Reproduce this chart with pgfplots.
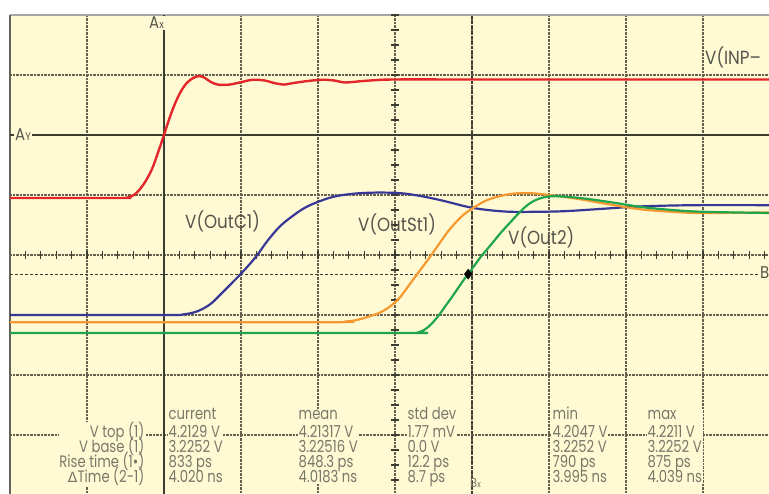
\documentclass[border=0pt]{standalone}
\usepackage{pgfplots}
\pgfplotsset{compat=1.18}
\usepackage{fontspec}
\setmainfont{Poppins}
\newfontfamily\dv{DejaVu Sans}
\newfontfamily\cond[FakeStretch=0.8]{Poppins}
\newfontfamily\lbl[FakeStretch=0.88]{Poppins}
\definecolor{bg}{RGB}{255,250,212}
\definecolor{gridc}{RGB}{100,98,78}
\definecolor{axc}{RGB}{60,60,48}
\definecolor{txt}{RGB}{120,120,105}
\definecolor{lab}{RGB}{85,85,75}
\definecolor{cred}{RGB}{226,38,42}
\definecolor{cblue}{RGB}{55,55,150}
\definecolor{corange}{RGB}{245,152,48}
\definecolor{cgreen}{RGB}{32,165,78}
\newcommand\colL[1]{\vtop{\baselineskip=15pt\lineskiplimit=-30pt\halign{##\hfil\cr #1}}}
\newcommand\colR[1]{\vtop{\baselineskip=15pt\lineskiplimit=-30pt\halign{\hfil##\cr #1}}}
\begin{document}
\begin{tikzpicture}[x=1pt,y=1pt]
\useasboundingbox (0,0) rectangle (769,494);
\clip (0,0) rectangle (769,494);
\fill[white] (0,0) rectangle (769,494);
\begin{axis}[
  at={(10pt,0pt)}, anchor=south west,
  scale only axis, width=759pt, height=479pt,
  xmin=0, xmax=9.857, ymin=0.0167, ymax=8,
  axis line style={draw=none},
  axis background/.style={fill=bg},
  xtick={0,...,9}, ytick={0,...,8},
  xticklabels={}, yticklabels={},
  tick style={draw=none},
  grid=major,
  major grid style={gridc, densely dotted, line width=1.1pt},
  clip=false,
]
% frame
\draw[gray!70, line width=1.6pt] (axis cs:0,8) -- (axis cs:9.857,8);
\draw[axc!80, line width=1.8pt] (axis cs:0,0.0167) -- (axis cs:0,8);
% Ax / Ay lines
\draw[axc, line width=1.5pt] (axis cs:2,0.0167) -- (axis cs:2,8);
\draw[axc, line width=1.5pt] (axis cs:0,6) -- (axis cs:9.857,6);
% B cursors
\draw[axc, line width=1.2pt, dash pattern=on 3pt off 2pt] (axis cs:0,3.68) -- (axis cs:9.857,3.68);
\draw[axc, line width=1.2pt, dash pattern=on 3pt off 2pt] (axis cs:6,0.0167) -- (axis cs:6,8);
% centre ticks
\pgfplotsinvokeforeach{0.2,0.4,...,9.81}{\draw[axc, line width=1.1pt] (axis cs:#1,3.935) -- (axis cs:#1,4.065);}
\pgfplotsinvokeforeach{0.25,0.5,...,7.9}{\draw[axc, line width=1.1pt] (axis cs:4.95,#1) -- (axis cs:5.05,#1);}
% red V(INP)
\addplot[cred, line width=2.4pt, smooth, tension=0.6] coordinates {
(0,4.95) (1.45,4.95) (1.53,4.96) (1.61,5.0) (1.69,5.1) (1.77,5.25) (1.85,5.45)
(1.92,5.7) (1.987,5.95) (2.05,6.2) (2.12,6.45) (2.2,6.68) (2.29,6.86) (2.38,6.95)
(2.45,6.98) (2.52,6.96) (2.6,6.89) (2.7,6.84) (2.85,6.84) (3.0,6.88) (3.15,6.92)
(3.3,6.91) (3.45,6.86) (3.55,6.84) (3.7,6.87) (3.87,6.9) (4.05,6.92) (4.2,6.91)
(4.35,6.875) (4.5,6.89) (4.7,6.91) (5.0,6.925) (6.0,6.925) (8.0,6.925) (9.857,6.925)};
% blue V(OutC1)
\addplot[cblue, line width=2.2pt, smooth, tension=0.6] coordinates {
(0,3.0) (1.0,3.0) (2.1,3.0) (2.25,3.01) (2.38,3.04) (2.5,3.1) (2.62,3.2) (2.74,3.35)
(2.88,3.53) (3.03,3.73) (3.2,3.98) (3.34,4.23) (3.5,4.47) (3.66,4.64) (3.82,4.78)
(3.99,4.88) (4.2,4.97) (4.45,5.02) (4.75,5.04) (5.07,5.03) (5.3,4.99) (5.5,4.94)
(5.7,4.88) (5.95,4.8) (6.2,4.75) (6.5,4.72) (6.8,4.72) (7.2,4.73) (7.7,4.77)
(8.2,4.81) (8.9,4.83) (9.857,4.83)};
% orange V(OutSt1)
\addplot[corange, line width=2.2pt, smooth, tension=0.6] coordinates {
(0,2.88) (2.0,2.88) (4.2,2.88) (4.35,2.89) (4.48,2.91) (4.6,2.95) (4.7,2.99)
(4.805,3.04) (4.9,3.11) (4.99,3.2) (5.07,3.3) (5.15,3.44) (5.23,3.58) (5.34,3.77)
(5.455,3.97) (5.565,4.17) (5.675,4.37) (5.78,4.53) (5.88,4.66) (6.01,4.78)
(6.17,4.9) (6.33,4.97) (6.52,5.02) (6.75,5.03) (7.0,5.0) (7.4,4.93) (7.8,4.84)
(8.2,4.76) (8.6,4.72) (9.0,4.7) (9.857,4.71)};
% green V(Out2)
\addplot[cgreen, line width=2.2pt, smooth, tension=0.6] coordinates {
(0,2.7) (2.5,2.7) (5.2,2.7) (5.3,2.71) (5.39,2.76) (5.48,2.86) (5.584,3.02)
(5.66,3.16) (5.74,3.3) (5.82,3.45) (5.89,3.58) (5.96,3.7) (6.04,3.84) (6.12,3.98)
(6.2,4.1) (6.29,4.24) (6.38,4.38) (6.48,4.52) (6.58,4.66) (6.69,4.8) (6.8,4.9)
(6.93,4.96) (7.08,4.98) (7.4,4.95) (7.8,4.88) (8.2,4.8) (8.6,4.75) (9.0,4.72)
(9.857,4.7)};
% marker
\addplot[only marks, mark=diamond*, mark size=5pt, black] coordinates {(5.95,3.68)};
\end{axis}
% labels
\begin{scope}[every node/.style={lab, anchor=base west, inner sep=0pt, font=\lbl\fontsize{19}{19}\selectfont}]
\node at (185,265) {V(OutC1)};
\node at (358,262) {V(OutSt1)};
\node at (508,249) {V(Out2)};
\node at (705,429) {V(INP–};
\end{scope}
\node[lab, anchor=base west, inner sep=1pt, fill=bg, font=\lbl\fontsize{17}{17}\selectfont] at (148,465) {A\fontsize{11}{11}\selectfont x};
\node[lab, anchor=base west, inner sep=1pt, fill=bg, font=\lbl\fontsize{17}{17}\selectfont] at (14,353) {A\fontsize{11}{11}\selectfont Y};
\node[lab, anchor=base west, inner sep=1pt, fill=bg, font=\lbl\fontsize{17}{17}\selectfont] at (759,215) {B};
\node[txt, anchor=base west, inner sep=0pt, font=\lbl\fontsize{13}{13}\selectfont] at (470,6) {B\fontsize{9}{9}\selectfont x};
% table
\begin{scope}[every node/.style={txt, inner sep=0.5pt, fill=bg, font=\cond\fontsize{16.5}{15}\selectfont}]
\node[anchor=base east] at (145,56) {\colR{V top (1)\cr V base (1)\cr Rise time (1•)\cr {\dv\fontsize{14}{15}\selectfont Δ}Time (2-1)\cr}};
\node[anchor=base west] at (168,74) {\colL{current\cr\noalign{\vskip3pt} 4.2129 V\cr 3.2252 V\cr 833 ps\cr 4.020 ns\cr}};
\node[anchor=base west] at (298,74) {\colL{mean\cr\noalign{\vskip3pt} 4.21317 V\cr 3.22516 V\cr 848.3 ps\cr 4.0183 ns\cr}};
\node[anchor=base west] at (407,74) {\colL{std dev\cr\noalign{\vskip3pt} 1.77 mV\cr 0.0 V\cr 12.2 ps\cr 8.7 ps\cr}};
\node[anchor=base west] at (552,74) {\colL{min\cr\noalign{\vskip3pt} 4.2047 V\cr 3.2252 V\cr 790 ps\cr 3.995 ns\cr}};
\node[anchor=base west] at (647,74) {\colL{max\cr\noalign{\vskip3pt} 4.2211 V\cr 3.2252 V\cr 875 ps\cr 4.039 ns\cr}};
\end{scope}
\end{tikzpicture}
\end{document}
